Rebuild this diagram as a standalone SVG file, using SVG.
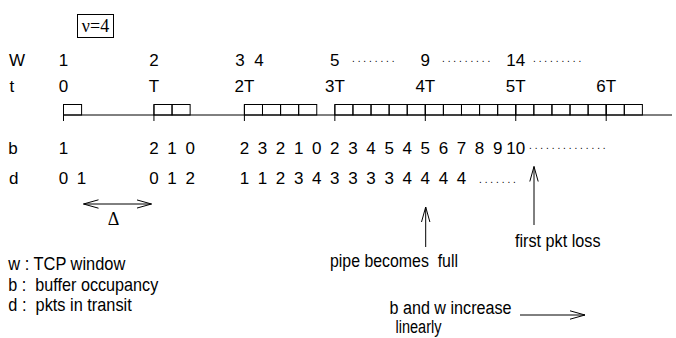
<svg xmlns="http://www.w3.org/2000/svg" width="676" height="338" viewBox="0 0 676 338">
<defs>
<style>
text{font-family:"Liberation Sans",Arial,Helvetica,sans-serif;fill:#000}
.n{font-size:17px;text-anchor:middle}
.l{font-size:17px}
.dots{font-size:10px;letter-spacing:2.9px}
.lg{font-size:19px;white-space:pre}
.an{font-size:18px;white-space:pre}
.ser{font-family:"Liberation Serif","Times New Roman",serif}
.ln{stroke:#000;stroke-width:1;fill:none}
.bx{fill:none;stroke:#000;stroke-width:1}
</style>
<marker id="ah" markerUnits="userSpaceOnUse" markerWidth="16" markerHeight="10" viewBox="0 0 16 10" refX="15" refY="5" orient="auto-start-reverse">
<path d="M0,0.8 L15,5 L0,9.2" fill="none" stroke="#000" stroke-width="1"/>
</marker>
</defs>
<rect width="676" height="338" fill="#fff"/>

<g id="nu-box">
<rect x="77.5" y="14.5" width="36" height="23" class="bx"/>
<text class="ser" x="95.5" y="31.5" style="font-size:18px;text-anchor:middle">ν=4</text>
</g>

<g id="row-W">
<text class="l" x="9" y="65.5">W</text>
<text class="n" x="63.5" y="65.5">1</text>
<text class="n" x="153.95" y="65.5">2</text>
<text class="n" x="240 249.5 259" y="65.5">3 4</text>
<text class="n" x="334.85" y="65.5">5</text>
<text class="dots" x="352" y="62">........</text>
<text class="n" x="425.3" y="65.5">9</text>
<text class="dots" x="442" y="62">.........</text>
<text class="n" x="515.75" y="65.5">14</text>
<text class="dots" x="533" y="62">.........</text>
</g>

<g id="row-t">
<text class="l" x="9.5" y="91.5">t</text>
<text class="n" x="63.5" y="91.5">0</text>
<text class="n" x="153.95" y="91.5">T</text>
<text class="n" x="244.4" y="91.5">2T</text>
<text class="n" x="334.85" y="91.5">3T</text>
<text class="n" x="425.3" y="91.5">4T</text>
<text class="n" x="515.75" y="91.5">5T</text>
<text class="n" x="606.2" y="91.5">6T</text>
</g>

<g id="timeline">
<line class="ln" x1="63.5" y1="115" x2="672" y2="115"/>
<g class="bx">
<rect x="63.5" y="104.5" width="18.09" height="10.5"/>
<rect x="153.95" y="104.5" width="18.09" height="10.5"/>
<rect x="172.04" y="104.5" width="18.09" height="10.5"/>
<rect x="244.4" y="104.5" width="18.09" height="10.5"/>
<rect x="262.49" y="104.5" width="18.09" height="10.5"/>
<rect x="280.58" y="104.5" width="18.09" height="10.5"/>
<rect x="298.67" y="104.5" width="18.09" height="10.5"/>
<rect x="334.85" y="104.5" width="18.09" height="10.5"/>
<rect x="352.94" y="104.5" width="18.09" height="10.5"/>
<rect x="371.03" y="104.5" width="18.09" height="10.5"/>
<rect x="389.12" y="104.5" width="18.09" height="10.5"/>
<rect x="407.21" y="104.5" width="18.09" height="10.5"/>
<rect x="425.3" y="104.5" width="18.09" height="10.5"/>
<rect x="443.39" y="104.5" width="18.09" height="10.5"/>
<rect x="461.48" y="104.5" width="18.09" height="10.5"/>
<rect x="479.57" y="104.5" width="18.09" height="10.5"/>
<rect x="497.66" y="104.5" width="18.09" height="10.5"/>
<rect x="515.75" y="104.5" width="18.09" height="10.5"/>
<rect x="533.84" y="104.5" width="18.09" height="10.5"/>
<rect x="551.93" y="104.5" width="18.09" height="10.5"/>
<rect x="570.02" y="104.5" width="18.09" height="10.5"/>
<rect x="588.11" y="104.5" width="18.09" height="10.5"/>
<rect x="606.2" y="104.5" width="18.09" height="10.5"/>
<rect x="624.29" y="104.5" width="18.09" height="10.5"/>
</g>
<path class="ln" d="M63.5,104.5V121 M153.95,104.5V121 M244.4,104.5V121 M334.85,104.5V121 M425.3,104.5V121 M515.75,104.5V121 M606.2,104.5V121"/>
</g>

<g id="row-b">
<text class="l" x="8.3" y="154.3">b</text>
<text class="n" x="63.5" y="154.3">1</text>
<text class="n" x="153.95 163 172.04 181.08 190.13" y="154.3">2 1 0</text>
<text class="n" x="244.4 253.45 262.49 271.54 280.58 289.63 298.67 307.72 316.76 325.81 334.85 343.9 352.94 361.99 371.03 380.08 389.12 398.17 407.21 416.26 425.3 434.35 443.39 452.44 461.48 470.53 479.57 488.62 497.66 506.71 511.03 520.48" y="154.3">2 3 2 1 0 2 3 4 5 4 5 6 7 8 9 10</text>
<text class="dots" x="529" y="149">..............</text>
</g>

<g id="row-d">
<text class="l" x="9" y="184.3">d</text>
<text class="n" x="63.5 72.55 81.59" y="184.3">0 1</text>
<text class="n" x="153.95 163 172.04 181.08 190.13" y="184.3">0 1 2</text>
<text class="n" x="244.4 253.45 262.49 271.54 280.58 289.63 298.67 307.72 316.76 325.81 334.85 343.9 352.94 361.99 371.03 380.08 389.12 398.17 407.21 416.26 425.3 434.35 443.39 452.44 461.48" y="184.3">1 1 2 3 4 3 3 3 3 4 4 4 4</text>
<text class="dots" x="479" y="182.5">.......</text>
</g>

<g id="connectors">
<line class="ln" x1="83.5" y1="204" x2="151.5" y2="204" marker-start="url(#ah)" marker-end="url(#ah)"/>
<line class="ln" x1="425.7" y1="247" x2="425.7" y2="207" marker-end="url(#ah)"/>
<line class="ln" x1="534" y1="225" x2="534" y2="166.5" marker-end="url(#ah)"/>
<line class="ln" x1="520" y1="315" x2="585" y2="315" marker-end="url(#ah)"/>
</g>

<g id="labels">
<text class="ser" x="113.5" y="225" style="font-size:18px;text-anchor:middle">Δ</text>
<text class="an" x="330" y="267" textLength="128" lengthAdjust="spacingAndGlyphs">pipe becomes  full</text>
<text class="an" x="515" y="246.5" textLength="85.5" lengthAdjust="spacingAndGlyphs">first pkt loss</text>
<text class="an" x="389.5" y="314" textLength="122" lengthAdjust="spacingAndGlyphs">b and w increase</text>
<text class="an" x="395.5" y="333" textLength="46" lengthAdjust="spacingAndGlyphs">linearly</text>
</g>

<g id="legend">
<text class="lg" x="8.3" y="270" textLength="117" lengthAdjust="spacingAndGlyphs">w : TCP window</text>
<text class="lg" x="8.3" y="290.5" textLength="150" lengthAdjust="spacingAndGlyphs">b :  buffer occupancy</text>
<text class="lg" x="8.3" y="311" textLength="123.5" lengthAdjust="spacingAndGlyphs">d :  pkts in transit</text>
</g>
</svg>
